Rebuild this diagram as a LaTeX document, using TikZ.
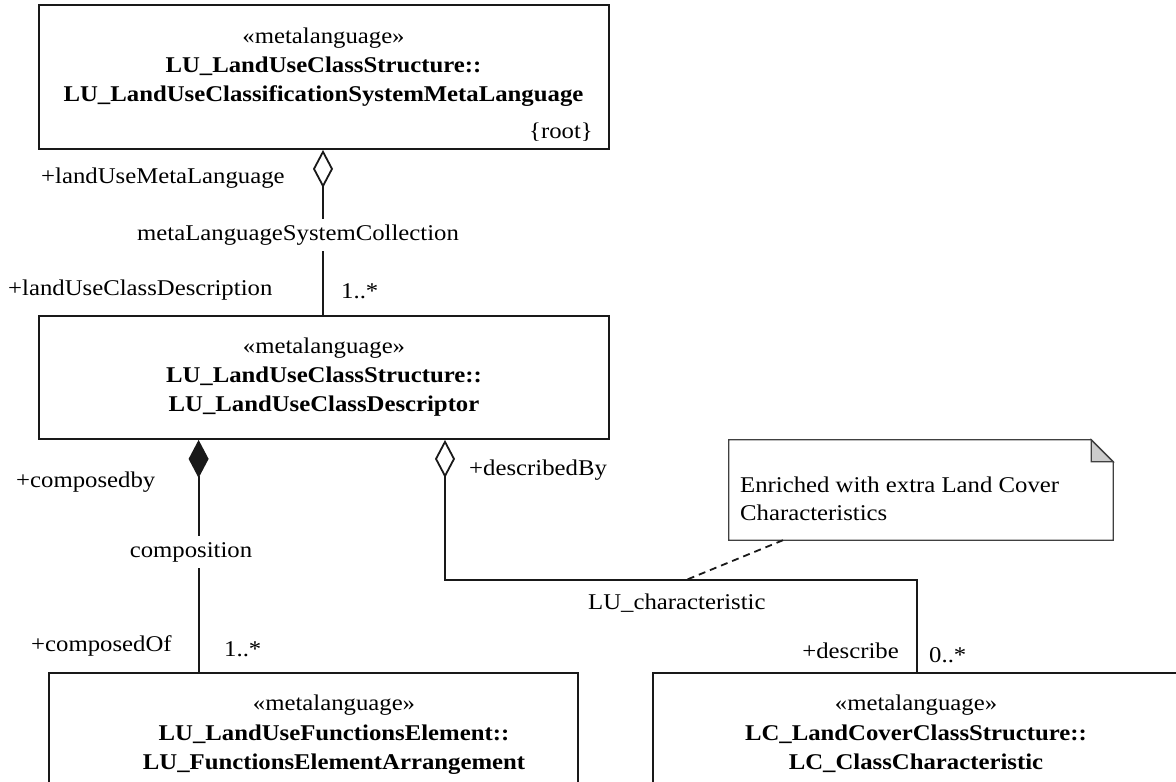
\documentclass[tikz,border=0pt]{standalone}
\usepackage{fontspec}
\setmainfont{Liberation Serif}[FakeStretch=1.1]
\usetikzlibrary{arrows.meta}

% three centred lines of a class: stereotype, package::, class name
\newcommand\classlines[6]{%
  \node[txt, anchor=base]  (#1-st) at (#2,#3) {«metalanguage»};
  \node[btxt, anchor=base] (#1-pk) at (#2,#4) {#5};
  \node[btxt, anchor=base] (#1-nm) at (#2,#4+29.5) {#6};
}

\begin{document}
\begin{tikzpicture}[x=1pt, y=-1pt,
  classbox/.style={draw=black!90, line width=1.8pt, rectangle, inner sep=0pt},
  conn/.style={draw=black!90, line width=1.8pt},
  txt/.style={inner sep=0pt, font=\fontsize{22.5}{29.5}\selectfont},
  btxt/.style={txt, font=\fontsize{22.5}{29.5}\selectfont\bfseries},
  lbl/.style={txt, fill=white, inner xsep=2pt, minimum height=32pt},
  notebody/.style={inner sep=0pt, minimum width=384pt, minimum height=100pt},
  noteline/.style={draw=black!75, line width=1.3pt},
  agg/.style={-{Diamond[open, length=38pt, width=20pt]}},
  comp/.style={-{Diamond[length=38pt, width=20pt]}},
  tie/.style={draw=black!90, line width=1.8pt, dash pattern=on 7pt off 5pt}
]
\useasboundingbox (0,0) rectangle (1176,782);
\clip (0,0) rectangle (1176,782);

% class boxes
\node[classbox, minimum width=570pt, minimum height=144pt] (meta) at (324,77) {};
\node[classbox, minimum width=570pt, minimum height=123pt] (desc) at (324,377.5) {};
\node[classbox, minimum width=529.4pt, minimum height=140pt] (func) at (313.3,743) {};
\node[classbox, minimum width=527pt, minimum height=140pt] (lc) at (916.5,743) {};

\classlines{metaT}{323.5}{43}{72}{LU\_LandUseClassStructure::}{LU\_LandUseClassificationSystemMetaLanguage}
\node[txt, anchor=base east] (root) at (593,138) {\{root\}};
\classlines{descT}{324}{353}{382}{LU\_LandUseClassStructure::}{LU\_LandUseClassDescriptor}
\classlines{funcT}{334}{710}{740}{LU\_LandUseFunctionsElement::}{LU\_FunctionsElementArrangement}
\classlines{lcT}{916}{710}{740}{LC\_LandCoverClassStructure::}{LC\_ClassCharacteristic}

% connector positions
\coordinate (xA) at (323,0);
\coordinate (xB) at (198.6,0);
\coordinate (bendR) at (917,580);
\coordinate (bendL) at (445,580);
\coordinate (xN) at (783,0);
\coordinate (noteTie) at (686,580);

% metaLanguageSystemCollection
\draw[conn, agg] (desc.north -| xA) -- (meta.south -| xA);
\node[lbl] (assocA) at (298,235) {metaLanguageSystemCollection};
\node[txt, anchor=base west] (roleA1) at (41,183) {+landUseMetaLanguage};
\node[txt, anchor=base west] (roleA2) at (8,295) {+landUseClassDescription};
\node[txt, anchor=base west] (multA) at (341,298) {1..*};

% composition
\draw[conn, comp] (func.north -| xB) -- (desc.south -| xB);
\node[lbl] (assocB) at (191,552) {composition};
\node[txt, anchor=base west] (roleB1) at (16,487) {+composedby};
\node[txt, anchor=base west] (roleB2) at (31,651) {+composedOf};
\node[txt, anchor=base west] (multB) at (224,656) {1..*};

% LU_characteristic
\draw[conn, agg] (lc.north -| bendR) -- (bendR) -- (bendL) -- (desc.south -| bendL);
\node[txt, anchor=base west] (assocC) at (588,609) {LU\_characteristic};
\node[txt, anchor=base west] (roleC1) at (469,475) {+describedBy};
\node[txt, anchor=base east] (roleC2) at (899,658) {+describe};
\node[txt, anchor=base west] (multC) at (929,662) {0..*};

% note with folded corner
\node[notebody] (note) at (921,490) {};
\draw[noteline] (note.south west) -- (note.north west)
  -- ([xshift=-22pt]note.north east) -- ([yshift=-22pt]note.north east)
  -- (note.south east) -- cycle;
\filldraw[noteline, fill=black!20] ([xshift=-22pt]note.north east)
  -- ([xshift=-22pt, yshift=-22pt]note.north east)
  -- ([yshift=-22pt]note.north east) -- cycle;
\node[txt, anchor=base west] (noteL1) at (740,492) {Enriched with extra Land Cover};
\node[txt, anchor=base west] (noteL2) at (740,520) {Characteristics};
\draw[tie] (note.south -| xN) -- (noteTie);

\end{tikzpicture}
\end{document}
